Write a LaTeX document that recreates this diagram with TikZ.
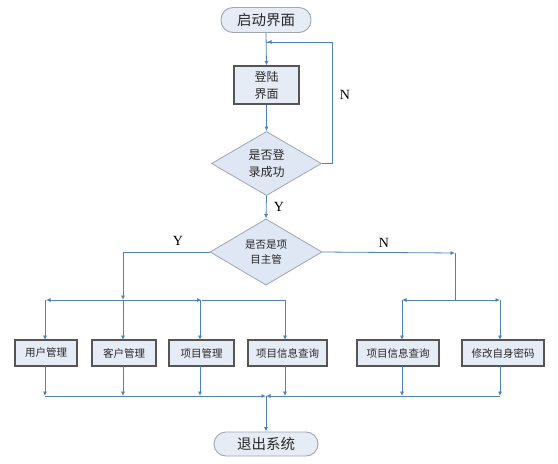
\documentclass[tikz,border=0pt]{standalone}
\usepackage{fontspec}
\newfontfamily\cjk{Noto Sans CJK SC}
\setmainfont{Liberation Serif}
\usetikzlibrary{shapes.geometric,arrows.meta}
\definecolor{lineblue}{RGB}{79,129,189}
\definecolor{boxfill}{RGB}{230,236,245}
\definecolor{dfill}{RGB}{222,231,243}
\definecolor{boxdraw}{RGB}{85,85,85}
\definecolor{ddraw}{RGB}{160,165,175}
\definecolor{txt}{RGB}{40,40,40}
\tikzset{
  conn/.style={draw=lineblue,line width=0.8pt},
  arr/.style={conn,-{Latex[length=4.5pt,width=4pt]}},
  term/.style={draw=ddraw,fill=boxfill,rounded corners=12pt,line width=0.9pt,text=txt,
    minimum width=#1,minimum height=25pt,inner sep=0pt,font=\cjk\fontsize{14.5}{16}\selectfont},
  procbox/.style={draw=boxdraw,fill=boxfill,line width=1.2pt,minimum height=26pt,text=txt,
    minimum width=#1,inner sep=0pt,font=\cjk\fontsize{10.5}{12}\selectfont},
  dec/.style={diamond,draw=ddraw,fill=dfill,line width=0.8pt,inner sep=0pt,text=txt,
    minimum width=#1,minimum height=58pt,align=center},
  lab/.style={font=\fontsize{14}{16}\selectfont}
}
\begin{document}
\begin{tikzpicture}[x=1pt,y=-1pt]
\useasboundingbox (0,0) rectangle (558,464);
\node[term=90pt] (start) at (266,20) {启动界面};
\node[procbox=65pt,minimum height=38pt,align=center,font=\cjk\fontsize{12}{17}\selectfont] (login) at (266.5,85) {登陆\\界面};
\node[dec=110pt,font=\cjk\fontsize{12}{17}\selectfont] (d1) at (266.5,163.5) {是否登\\录成功};
\node[dec=112pt,minimum height=60pt,font=\cjk\fontsize{10.5}{15}\selectfont] (d2) at (266,252) {是否是项\\目主管};
\node[procbox=62pt] (b1) at (46,353) {用户管理};
\node[procbox=64pt] (b2) at (124,353) {客户管理};
\node[procbox=65pt] (b3) at (201.5,353) {项目管理};
\node[procbox=79pt] (b4) at (287.5,353) {项目信息查询};
\node[procbox=82pt] (b5) at (398,353) {项目信息查询};
\node[procbox=82pt] (b6) at (503,353) {修改自身密码};
\node[term=104pt,minimum height=24pt] (exit) at (266,444) {退出系统};

\coordinate (fb) at (266,42);
\coordinate (fbr) at (332,42);
\coordinate (yb) at (123,300);
\coordinate (ycorner) at (123,252);
\coordinate (nb) at (455,253);
\coordinate (nbb) at (455,300);
\coordinate (m) at (266,396);

% top part
\draw[arr] (start.south) -- (login.north);
\draw[arr] (login.south) -- (d1.north);
\draw[conn] (d1.east) -| (fbr) -- (fb);
\draw[arr] (fbr) -- ([xshift=1pt]fb);
\node[lab] (nlab) at (345,95) {N};
\draw[arr] (d1.south) -- node[lab,right=4pt] (ylab) {Y} (d2.north);

% Y branch
\draw[conn] (d2.west) -- (ycorner);
\draw[arr] (ycorner) -- (yb);
\node[lab] (ylab2) at (178,241) {Y};
\draw[arr] (yb) -- (b1.north |- yb);
\draw[arr] (yb) -- (b3.north |- yb);
\draw[conn] (b3.north |- yb) -- (285,300);
\foreach \b/\x in {b1/45,b2/123,b3/200,b4/285}
  \draw[arr] (\x,300) -- (\x,340);

% N branch
\draw[arr] (d2.east) -- (nb);
\draw[conn] (nb) -- (nbb);
\node[lab] (nlab2) at (384,243) {N};
\draw[arr] (nbb) -- (402,300);
\draw[arr] (nbb) -- (500,300);
\draw[arr] (402,300) -- (402,340);
\draw[arr] (500,300) -- (500,340);

% bottom merge
\foreach \x in {45,123,200,285,402,500}
  \draw[arr] (\x,366) -- (\x,396);
\draw[arr] (45,396) -- (m);
\draw[arr] (500,396) -- (m);
\draw[arr] (m) -- (exit.north);
\end{tikzpicture}
\end{document}
